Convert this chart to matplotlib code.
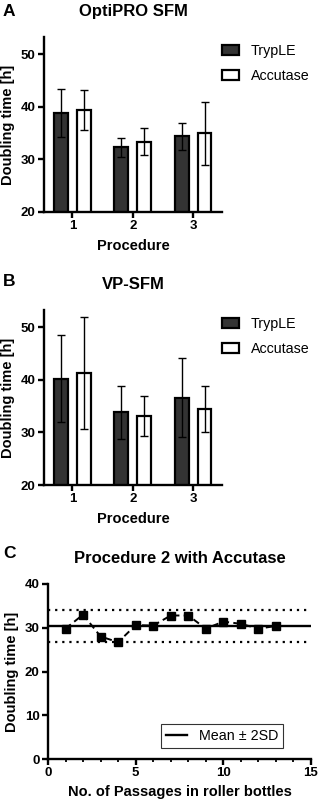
"""
Doubling time charts (A, B bars; C passages)
"""

import matplotlib
matplotlib.use('Agg')
import matplotlib.pyplot as plt
import numpy as np

plt.rcParams['font.family'] = ['Liberation Sans', 'DejaVu Sans']
plt.rcParams['font.weight'] = 'bold'

# data
procedures = [1, 2, 3]
enzymes = ['TrypLE', 'Accutase']

opti_tryple = [38.9, 32.3, 34.4]
opti_tryple_sd = [4.6, 1.8, 2.6]
opti_accutase = [39.4, 33.4, 35.0]
opti_accutase_sd = [3.8, 2.6, 6.0]

vp_tryple = [40.2, 33.8, 36.6]
vp_tryple_sd = [8.3, 5.1, 7.5]
vp_accutase = [41.3, 33.2, 34.5]
vp_accutase_sd = [10.6, 3.8, 4.4]

passages = [1, 2, 3, 4, 5, 6, 7, 8, 9, 10, 11, 12, 13]
doubling = [29.8, 33.0, 28.0, 26.7, 30.6, 30.5, 32.8, 32.8, 29.8, 31.4, 30.9, 29.8, 30.4]

W, H = 320, 807
fig = plt.figure(figsize=(W / 100, H / 100), dpi=100)


def px_axes(l, t, r, b):
    return fig.add_axes([l / W, 1 - b / H, (r - l) / W, (b - t) / H])


def style_axes(ax):
    for s in ['top', 'right']:
        ax.spines[s].set_visible(False)
    for s in ['left', 'bottom']:
        ax.spines[s].set_linewidth(1.7)
    ax.tick_params(width=1.7, length=4, labelsize=9.5, pad=2)
    for lab in ax.get_xticklabels() + ax.get_yticklabels():
        lab.set_fontweight('bold')


def bar_panel(ax, t_vals, t_sd, a_vals, a_sd, title, letter, ly):
    x = np.array(procedures)
    off = 0.19
    wbar = 0.23
    ax.bar(x - off, t_vals, width=wbar, color='#333333', edgecolor='black',
           linewidth=1.6, label=enzymes[0], zorder=2)
    ax.bar(x + off, a_vals, width=wbar, color='white', edgecolor='black',
           linewidth=1.6, label=enzymes[1], zorder=2)
    ax.errorbar(x - off, t_vals, yerr=t_sd, fmt='none', ecolor='black',
                elinewidth=1.0, capsize=3.2, capthick=1.0, zorder=3)
    ax.errorbar(x + off, a_vals, yerr=a_sd, fmt='none', ecolor='black',
                elinewidth=1.0, capsize=3.2, capthick=1.0, zorder=3)
    ax.set_xlim(0.53, 3.48)
    ax.set_ylim(20, 53.3)
    ax.set_yticks([20, 30, 40, 50])
    ax.set_xticks(procedures)
    ax.set_xlabel('Procedure', fontsize=10.5, fontweight='bold', labelpad=5)
    ax.set_ylabel('Doubling time [h]', fontsize=10.5, fontweight='bold', labelpad=4)
    ax.set_title(title, fontsize=12, fontweight='bold', pad=15)
    style_axes(ax)
    ax.legend(loc='upper left', bbox_to_anchor=(1.0, 0.96), frameon=False,
              handlelength=1.2, handleheight=0.75, handletextpad=0.8,
              labelspacing=0.75, borderaxespad=0, borderpad=0,
              prop={'weight': 'normal', 'size': 10.3})
    fig.text(3 / W, 1 - ly / H, letter, fontsize=12.5, fontweight='bold', va='center')


ax_a = px_axes(44, 37, 222, 212)
bar_panel(ax_a, opti_tryple, opti_tryple_sd, opti_accutase, opti_accutase_sd,
          'OptiPRO SFM', 'A', 11)

ax_b = px_axes(44, 310, 222, 485)
bar_panel(ax_b, vp_tryple, vp_tryple_sd, vp_accutase, vp_accutase_sd,
          'VP-SFM', 'B', 282)

# panel C
ax_c = px_axes(48, 584, 311, 759)
mean = np.mean(doubling)
sd = np.std(doubling, ddof=1)
ax_c.plot(passages, doubling, linestyle=(0, (3.5, 2.2)), color='black', linewidth=1.4,
          marker='s', markersize=5.3, zorder=3)
ax_c.axhline(mean, color='black', linewidth=1.7, label='Mean ± 2SD', zorder=2)
ax_c.axhline(mean + 2 * sd, color='black', linewidth=1.6, linestyle=(0, (1, 2.2)))
ax_c.axhline(mean - 2 * sd, color='black', linewidth=1.6, linestyle=(0, (1, 2.2)))
ax_c.set_xlim(0, 15)
ax_c.set_ylim(0, 40)
ax_c.set_xticks([0, 5, 10, 15])
ax_c.set_xticks(range(0, 16), minor=True)
ax_c.set_yticks([0, 10, 20, 30, 40])
ax_c.tick_params(which='minor', width=1.3, length=2.5)
ax_c.set_xlabel('No. of Passages in roller bottles', fontsize=10.5, fontweight='bold', labelpad=4)
ax_c.set_ylabel('Doubling time [h]', fontsize=10.5, fontweight='bold', labelpad=4)
ax_c.set_title('Procedure 2 with Accutase', fontsize=12, fontweight='bold', pad=15)
style_axes(ax_c)
leg = ax_c.legend(loc='lower right', bbox_to_anchor=(0.894, 0.063), frameon=True, fancybox=False,
                  edgecolor='black', prop={'weight': 'normal', 'size': 10.3},
                  handlelength=1.5, borderpad=0.35, handletextpad=0.8, borderaxespad=0)
leg.get_frame().set_linewidth(0.8)
fig.text(3 / W, 1 - 553 / H, 'C', fontsize=12.5, fontweight='bold', va='center')

plt.savefig('out.png', dpi=100)
plt.close()
